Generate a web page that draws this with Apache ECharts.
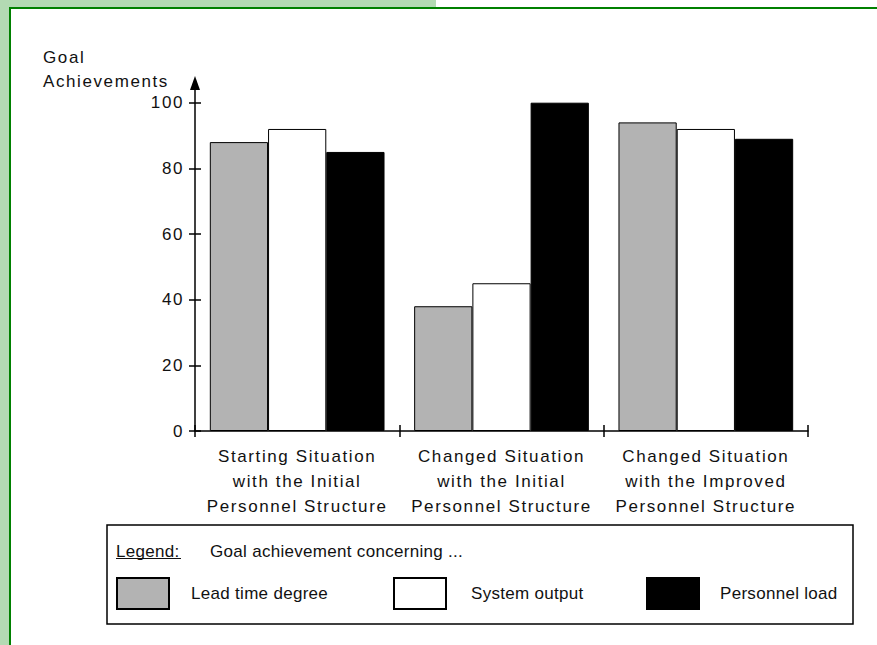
<!DOCTYPE html>
<html>
<head>
<meta charset="utf-8">
<title>Goal Achievements</title>
<script src="https://cdn.jsdelivr.net/npm/echarts@6/dist/echarts.min.js"></script>
<style>
  html, body { margin: 0; padding: 0; width: 877px; height: 645px; overflow: hidden; background: #fff; }
  .band-top { position: absolute; left: 0; top: 0; width: 436px; height: 7px; background: #b3dab3; }
  .band-left { position: absolute; left: 0; top: 0; width: 9px; height: 645px; background: #b3dab3; }
  .frame { position: absolute; left: 9px; top: 7px; right: 0; bottom: 0; border-left: 2px solid #008000; border-top: 2px solid #008000; }
  #chart { position: absolute; left: 0; top: 0; width: 877px; height: 645px; }
  /* the original uses widely spaced lettering on the axes */
  #chart text[style*="Liberation"] { letter-spacing: 1.6px; }
  #chart text[style*="Arial"] { letter-spacing: 0.3px; }
</style>
</head>
<body>
<div class="band-top"></div>
<div class="band-left"></div>
<div class="frame"></div>
<div id="chart"></div>
<script>
const categories = [
  "Starting Situation\nwith the Initial\nPersonnel Structure",
  "Changed Situation\nwith the Initial\nPersonnel Structure",
  "Changed Situation\nwith the Improved\nPersonnel Structure"
]
const leadTimeDegree = [88, 38, 94]
const systemOutput = [92, 45, 92]
const personnelLoad = [85, 100, 89]
const yTicks = [0, 20, 40, 60, 80, 100]

const axisFont = "Liberation Sans"
const legendFont = "Arial"
const ink = "#111"

const chart = echarts.init(document.getElementById("chart"), null, { renderer: "svg" })

function barSeries(name, data, color) {
  return {
    name: name,
    type: "bar",
    data: data,
    barGap: "0%",
    barCategoryGap: "14.5%",
    itemStyle: { color: color, borderColor: "#000", borderWidth: 1 },
    emphasis: { disabled: true }
  }
}

function legendFor(name, left, gap) {
  return {
    data: [name],
    left: left,
    top: 577,
    padding: 0,
    icon: "rect",
    itemWidth: 52,
    itemHeight: 31,
    selectedMode: false,
    textStyle: { fontSize: 17, fontFamily: legendFont, color: ink, padding: [0, 0, 0, gap] }
  }
}

const option = {
  animation: false,
  grid: { left: 195, right: 69, top: 83, bottom: 214, outerBoundsMode: "none" },
  xAxis: [
    {
      type: "category",
      data: categories,
      position: "bottom",
      axisLine: { lineStyle: { color: "#000", width: 1.5 } },
      axisTick: { show: true, length: 6, lineStyle: { color: "#000", width: 1.5 } },
      axisLabel: {
        interval: 0, margin: 13, fontSize: 17, lineHeight: 25,
        fontFamily: axisFont, color: ink
      }
    },
    {
      // second axis only draws the upper half of the crossing ticks
      type: "category",
      data: categories,
      position: "top",
      axisLine: { show: true, onZero: true, lineStyle: { opacity: 0 } },
      axisTick: { show: true, length: 6, lineStyle: { color: "#000", width: 1.5 } },
      axisLabel: { show: false }
    }
  ],
  yAxis: [
    {
      type: "value",
      min: 0,
      max: 106,
      position: "left",
      axisLine: {
        show: true,
        symbol: ["none", "triangle"],
        symbolSize: [10, 14],
        lineStyle: { color: "#000", width: 1.5 }
      },
      axisTick: { show: true, length: 6, customValues: yTicks, lineStyle: { color: "#000", width: 1.5 } },
      axisLabel: { customValues: yTicks, margin: 11, fontSize: 17, fontFamily: axisFont, color: ink },
      splitLine: { show: false }
    },
    {
      // right half of the y ticks, moved onto the left axis line
      type: "value",
      min: 0,
      max: 106,
      position: "right",
      offset: -613,
      axisLine: { show: false },
      axisTick: { show: true, length: 6, customValues: yTicks, lineStyle: { color: "#000", width: 1.5 } },
      axisLabel: { show: false },
      splitLine: { show: false }
    }
  ],
  legend: [
    legendFor("Lead time degree", 116, 17),
    legendFor("System output", 393, 20),
    legendFor("Personnel load", 646, 16)
  ],
  graphic: [
    {
      type: "text",
      left: 43,
      top: 45,
      style: {
        text: "Goal\nAchievements",
        fontSize: 17, lineHeight: 24, fontFamily: axisFont, fill: ink
      }
    },
    {
      type: "rect",
      shape: { x: 107, y: 525, width: 746, height: 99 },
      style: { fill: "none", stroke: "#000", lineWidth: 1.5 }
    },
    {
      type: "text",
      x: 116,
      y: 551,
      style: { text: "Legend:", fontSize: 17, fontFamily: legendFont, fill: ink, verticalAlign: "middle" }
    },
    {
      type: "line",
      shape: { x1: 116, y1: 558.5, x2: 181, y2: 558.5 },
      style: { stroke: ink, lineWidth: 1 }
    },
    {
      type: "text",
      x: 210,
      y: 551,
      style: { text: "Goal achievement concerning ...", fontSize: 17, fontFamily: legendFont, fill: ink, verticalAlign: "middle" }
    }
  ],
  series: [
    barSeries("Lead time degree", leadTimeDegree, "#b3b3b3"),
    barSeries("System output", systemOutput, "#ffffff"),
    barSeries("Personnel load", personnelLoad, "#000000")
  ]
}

chart.setOption(option)
</script>
</body>
</html>
